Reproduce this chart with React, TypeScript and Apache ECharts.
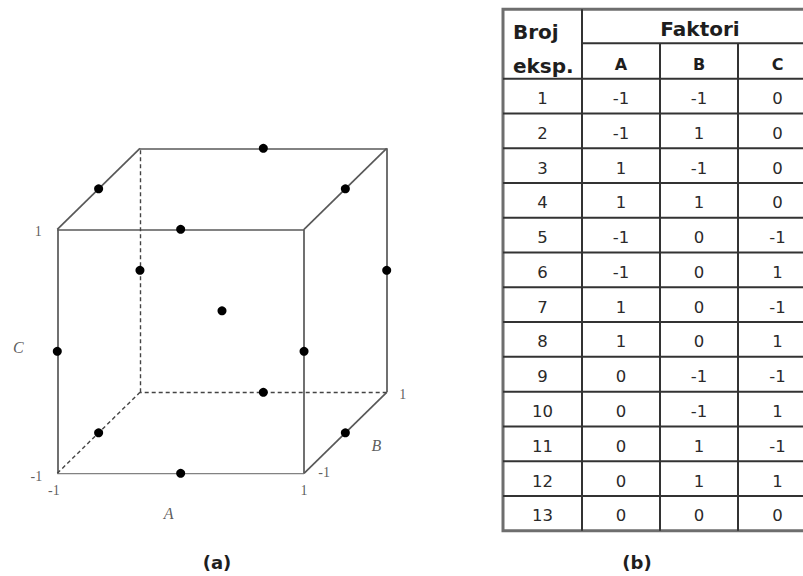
import React, { useEffect, useRef } from "react";
import * as echarts from "echarts";

// ---- data (Box-Behnken design, 3 factors) ----
const runLabels = ["1", "2", "3", "4", "5", "6", "7", "8", "9", "10", "11", "12", "13"];
const factorA = [-1, -1, 1, 1, -1, -1, 1, 1, 0, 0, 0, 0, 0];
const factorB = [-1, 1, -1, 1, 0, 0, 0, 0, -1, -1, 1, 1, 0];
const factorC = [0, 0, 0, 0, -1, 1, -1, 1, -1, 1, -1, 1, 0];
const factorNames = ["A", "B", "C"];
const headerRun = ["Broj", "eksp."];
const headerGroup = "Faktori";
const axisTicks = ["-1", "1"];

// cube corners (A, B, C)
const cubeCorners: number[][] = [
  [-1, -1, -1], [1, -1, -1], [1, 1, -1], [-1, 1, -1],
  [-1, -1, 1], [1, -1, 1], [1, 1, 1], [-1, 1, 1],
];

const W = 803;
const H = 576;

// oblique projection of depth (B)
const KX = 0.335;
const KY = 0.332;
const proj = (a: number, b: number, c: number) => [a + KX * (b + 1), c + KY * (b + 1)];

function buildOption() {
  // cube edges
  const solid: any[] = [];
  const dashed: any[] = [];
  const hidden = [-1, 1, -1];
  for (let i = 0; i < cubeCorners.length; i++) {
    for (let j = i + 1; j < cubeCorners.length; j++) {
      const p = cubeCorners[i];
      const q = cubeCorners[j];
      let diff = 0;
      for (let k = 0; k < 3; k++) if (p[k] !== q[k]) diff++;
      if (diff !== 1) continue;
      const isHidden =
        (p[0] === hidden[0] && p[1] === hidden[1] && p[2] === hidden[2]) ||
        (q[0] === hidden[0] && q[1] === hidden[1] && q[2] === hidden[2]);
      const item = { coords: [proj(p[0], p[1], p[2]), proj(q[0], q[1], q[2])] };
      (isHidden ? dashed : solid).push(item);
    }
  }

  const points = factorA.map((a, i) => proj(a, factorB[i], factorC[i]));

  const serif = "'Liberation Serif', 'Times New Roman', serif";
  const lbl = (text: string, at: number[], offset: number[], italic = false) => ({
    name: text,
    value: proj(at[0], at[1], at[2]),
    label: {
      show: true,
      offset,
      color: "#333333",
      textBorderWidth: 0,
      fontFamily: serif,
      fontStyle: italic ? "italic" : "normal",
      fontSize: italic ? 16 : 14,
    },
  });
  const labelData = [
    lbl(axisTicks[1], [-1, -1, 1], [-19, 2]),
    lbl(axisTicks[0], [-1, -1, -1], [-21, 3]),
    lbl(factorNames[2], [-1, -1, 0], [-39, -4], true),
    lbl(axisTicks[0], [-1, -1, -1], [-3.5, 17]),
    lbl(axisTicks[1], [1, -1, -1], [0, 17]),
    lbl(factorNames[0], [0, -1, -1], [-12, 40], true),
    lbl(axisTicks[0], [1, -1, -1], [20, -1]),
    lbl(factorNames[1], [1, 0, -1], [31, 13], true),
    lbl(axisTicks[1], [1, 1, -1], [16, 2]),
  ];

  // ---- table graphics ----
  const colX = [503, 582, 660, 738, 817];
  const top = 9.3;
  const mid = 43.3;
  const headBottom = 78.7;
  const rowH = 34.77;
  const bottom = headBottom + rowH * runLabels.length;
  const lineColor = "#333333";
  const g: any[] = [];
  const line = (x1: number, y1: number, x2: number, y2: number, w = 2, c = lineColor) =>
    g.push({ type: "line", shape: { x1, y1, x2, y2 }, style: { stroke: c, lineWidth: w }, z: 10 });
  const sans = "'DejaVu Sans', Verdana, sans-serif";
  const text = (t: string, x: number, y: number, size: number, weight: string, align = "center", fill = "#2a2a2a") =>
    g.push({
      type: "text",
      x,
      y,
      z: 11,
      style: { text: t, fill, fontSize: size, fontWeight: weight, fontFamily: sans, align, verticalAlign: "middle" },
    });

  g.push({
    type: "rect",
    shape: { x: colX[0], y: top, width: colX[4] - colX[0], height: bottom - top },
    style: { fill: "#ffffff", stroke: "#6e6e6e", lineWidth: 3 },
    z: 9,
  });
  line(colX[1], top, colX[1], bottom);
  line(colX[1], mid, colX[4], mid);
  line(colX[2], mid, colX[2], bottom);
  line(colX[3], mid, colX[3], bottom);
  for (let r = 0; r < runLabels.length; r++) {
    line(colX[0], headBottom + r * rowH, colX[4], headBottom + r * rowH);
  }

  text(headerRun[0], 513, 31.5, 20, "bold", "left", "#1e1e1e");
  text(headerRun[1], 513, 65.5, 20, "bold", "left", "#1e1e1e");
  text(headerGroup, 700, 29, 20, "bold", "center", "#1e1e1e");
  for (let k = 0; k < 3; k++) {
    text(factorNames[k], (colX[k + 1] + colX[k + 2]) / 2, 64, 16, "bold", "center", "#1e1e1e");
  }
  const cols = [runLabels, factorA.map(String), factorB.map(String), factorC.map(String)];
  for (let r = 0; r < runLabels.length; r++) {
    const cy = headBottom + r * rowH + rowH / 2 + 2.5;
    for (let c = 0; c < 4; c++) {
      text(cols[c][r], (colX[c] + colX[c + 1]) / 2, cy, 16.5, "normal");
    }
  }

  // captions
  text("(a)", 217, 562, 18, "bold", "center", "#1e1e1e");
  text("(b)", 637, 562, 18, "bold", "center", "#1e1e1e");

  return {
    animation: false,
    backgroundColor: "#ffffff",
    grid: { left: 57.3, top: 148.3, width: 329.4, height: 325, containLabel: false },
    xAxis: { type: "value", min: -1, max: 1 + 2 * KX, show: false, splitLine: { show: false } },
    yAxis: { type: "value", min: -1, max: 1 + 2 * KY, show: false, splitLine: { show: false } },
    series: [
      {
        type: "lines",
        coordinateSystem: "cartesian2d",
        data: solid,
        silent: true,
        lineStyle: { color: "#585858", width: 1.7, type: "solid", opacity: 1 },
        z: 2,
      },
      {
        type: "lines",
        coordinateSystem: "cartesian2d",
        data: dashed,
        silent: true,
        lineStyle: { color: "#444444", width: 1.4, type: [4, 3], opacity: 1 },
        z: 2,
      },
      {
        type: "scatter",
        data: points,
        symbol: "circle",
        symbolSize: 9,
        itemStyle: { color: "#000000", opacity: 1 },
        silent: true,
        z: 5,
      },
      {
        type: "scatter",
        data: labelData,
        symbolSize: 0,
        silent: true,
        z: 6,
        itemStyle: { color: "#333333" },
        label: {
          show: true,
          position: "inside",
          formatter: "{b}",
          color: "#333333",
          textBorderWidth: 0,
          fontFamily: serif,
          align: "center",
          verticalAlign: "middle",
        },
      },
    ],
    graphic: { elements: g },
  };
}

export default function App() {
  const ref = useRef<HTMLDivElement>(null);
  useEffect(() => {
    document.body.style.margin = "0";
    const chart = echarts.init(ref.current as HTMLDivElement, null, { renderer: "svg" });
    chart.setOption(buildOption() as any);
    return () => chart.dispose();
  }, []);
  return <div ref={ref} style={{ width: W, height: H }} />;
}
